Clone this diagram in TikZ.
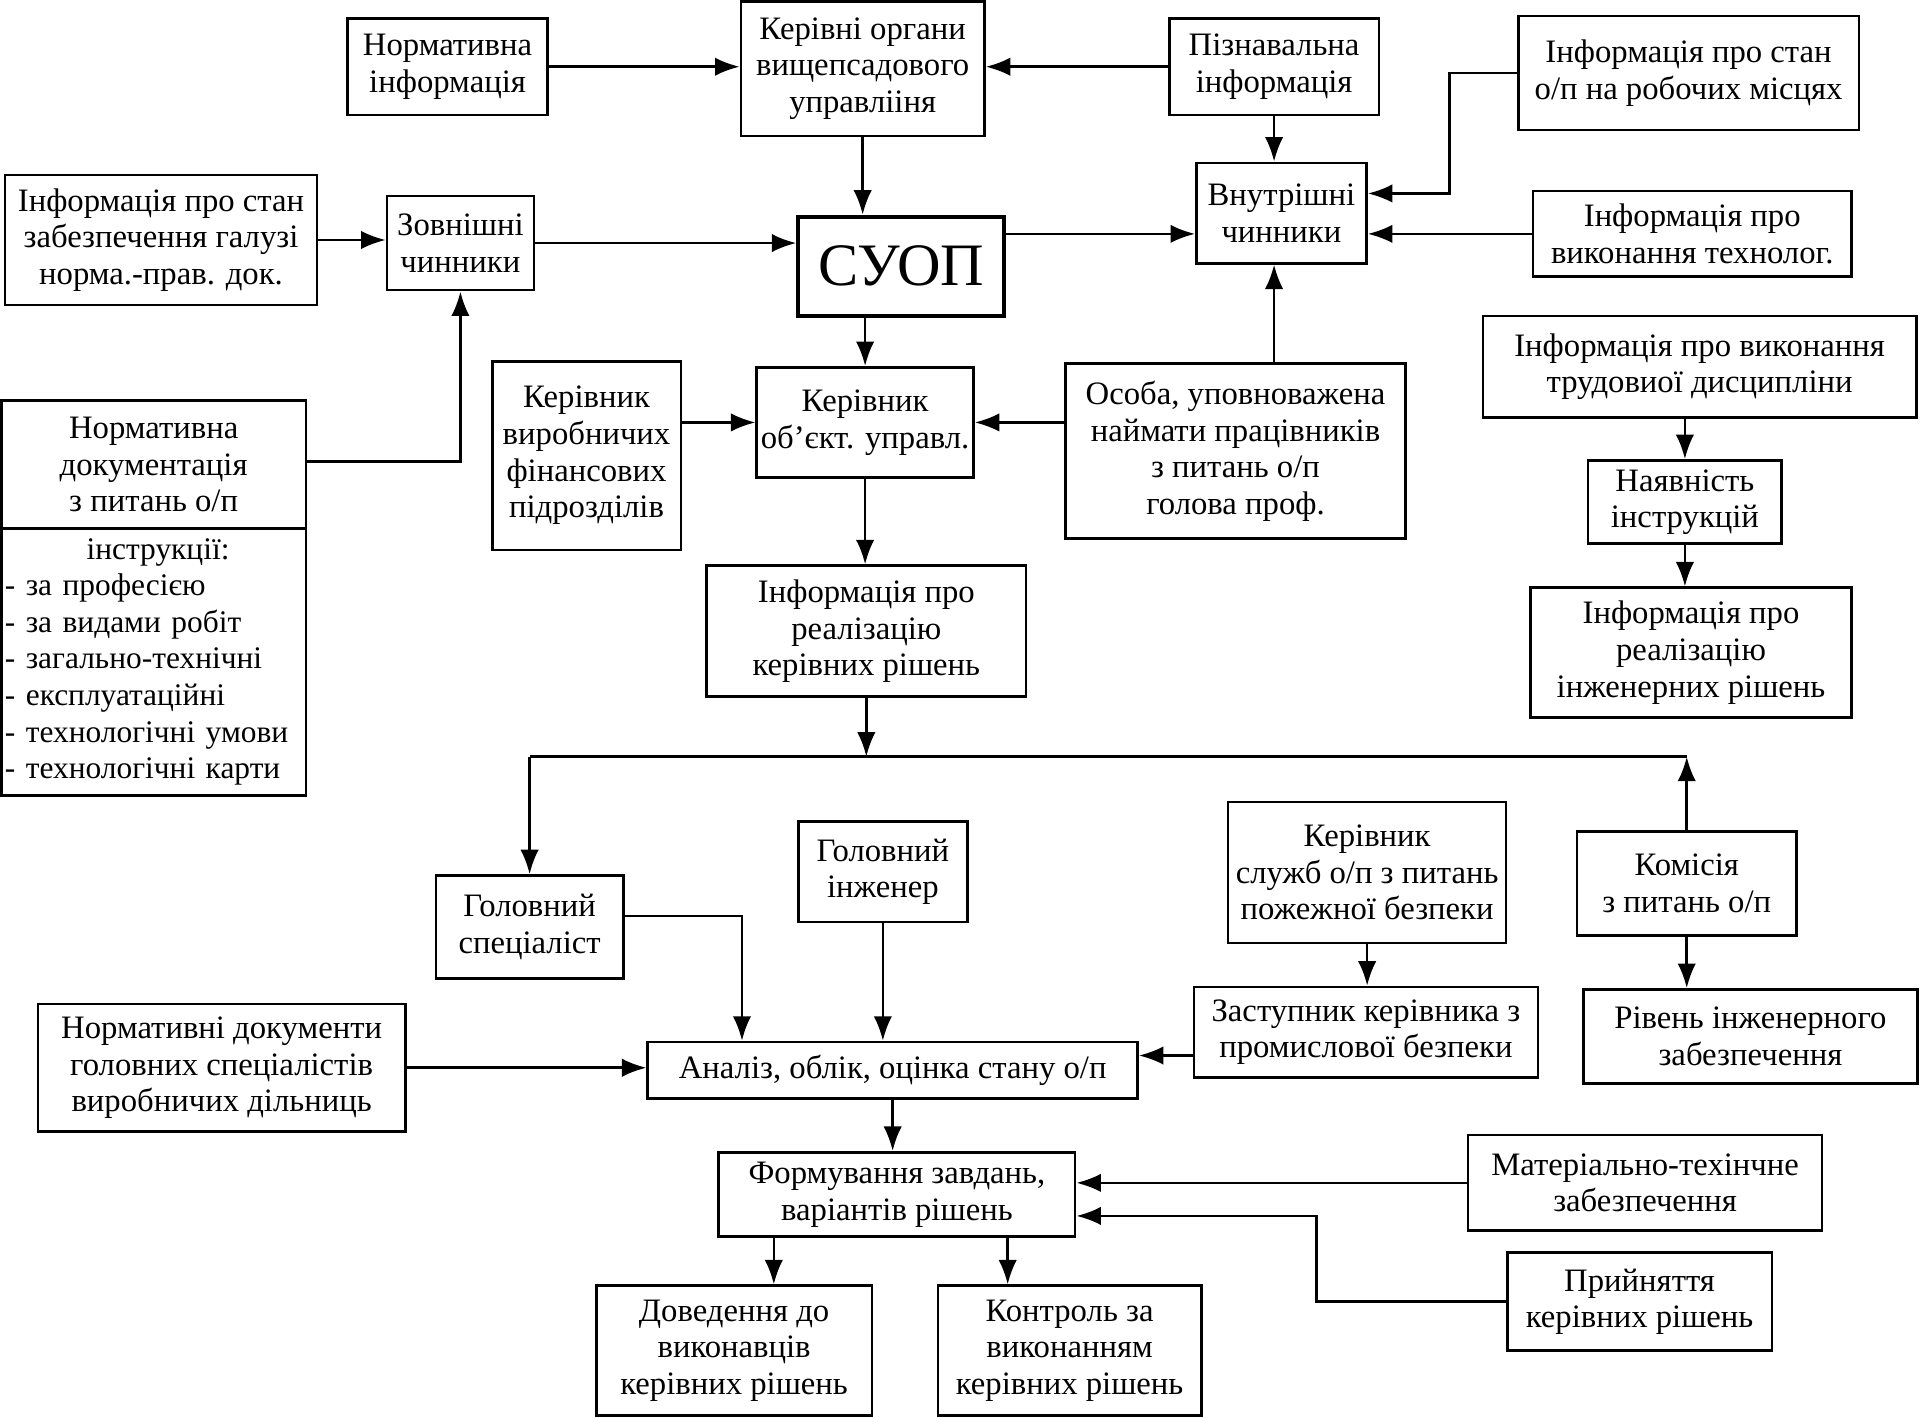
\documentclass[tikz,border=0pt]{standalone}
\usepackage{fontspec}
\setmainfont{Liberation Serif}
\usepackage{tikz}
\usetikzlibrary{arrows.meta,calc}

\begin{document}
\begin{tikzpicture}[x=0.2mm,y=-0.2mm,
  blk/.style={draw,line width=1.2pt,align=center,inner sep=1pt,font=\fontsize{15.2}{17}\selectfont},
  sz/.style 2 args={minimum width=#1*0.2mm,minimum height=#2*0.2mm},
  arr/.style={line width=1.2pt,-{Latex[length=4mm,width=3mm]}}]
\useasboundingbox (0,0) rectangle (1568,1158);

\node[blk,sz={163}{79}] (NormInfo) at (365.5,54.5) {Нормативна\\інформація};
\node[blk,sz={199}{110}] (KerOrg) at (704.5,56) {Керівні органи\\вищепсадового\\управлііня};
\node[blk,sz={171}{79}] (PiznInfo) at (1040.5,54.5) {Пізнавальна\\інформація};
\node[blk,sz={278}{93}] (InfoRobMisc) at (1379,59.5) {Інформація про стан\\о/п на робочих місцях};

\node[blk,sz={255}{106}] (InfoGaluz) at (131.5,196) {Інформація про стан\\забезпечення галузі\\норма.-прав. док.};
\node[blk,sz={120}{77}] (Zovn) at (376,198.5) {Зовнішні\\чинники};
\node[blk,sz={168}{81},line width=1.9pt,font=\fontsize{28}{30}\selectfont] (SUOP) at (736,217.5) {СУОП};
\node[blk,sz={139}{82}] (Vnutr) at (1046.5,174) {Внутрішні\\чинники};
\node[blk,sz={260}{70}] (InfoTechn) at (1382,191) {Інформація про\\виконання технолог.};

\node[blk,sz={249}{105}] (NormDoc) at (125.5,379.5) {Нормативна\\документація\\з питань о/п};
\node[blk,sz={249}{218},align=left,text width=243*0.2mm,font=\fontsize{14.6}{17}\selectfont] (Instr) at (125.5,540.5) {\hspace*{2.6em}інструкції:\\- за професією\\- за видами робіт\\- загально-технічні\\- експлуатаційні\\- технологічні умови\\- технологічні карти};
\node[blk,sz={154}{154}] (KerVyrob) at (479,372) {Керівник\\виробничих\\фінансових\\підрозділів};
\node[blk,sz={177}{90}] (KerObj) at (706.5,345) {Керівник\\об'єкт. управл.};
\node[blk,sz={278}{143}] (Osoba) at (1009,368.5) {Особа, уповноважена\\наймати працівників\\з питань о/п\\голова проф.};
\node[blk,sz={354}{83}] (InfoDysc) at (1388,299.5) {Інформація про виконання\\трудовиої дисципліни};
\node[blk,sz={158}{68}] (Nayavn) at (1376,410) {Наявність\\інструкцій};
\node[blk,sz={262}{106}] (InfoIng) at (1381,533) {Інформація про\\реалізацію\\інженерних рішень};
\node[blk,sz={261}{107}] (InfoKer) at (707.5,515.5) {Інформація про\\реалізацію\\керівних рішень};

\node[blk,sz={153}{84}] (GolSpec) at (432.5,757) {Головний\\спеціаліст};
\node[blk,sz={138}{82}] (GolIng) at (721,712) {Головний\\інженер};
\node[blk,sz={227}{115}] (KerSluzh) at (1116.5,712.5) {Керівник\\служб о/п з питань\\пожежної безпеки};
\node[blk,sz={179}{85}] (Komis) at (1377.5,721.5) {Комісія\\з питань о/п};
\node[blk,sz={281}{74}] (Zastup) at (1115.5,843) {Заступник керівника з\\промислової безпеки};
\node[blk,sz={273}{77}] (Riven) at (1429.5,846.5) {Рівень інженерного\\забезпечення};
\node[blk,sz={300}{104}] (NormDocGol) at (181,872) {Нормативні документи\\головних спеціалістів\\виробничих дільниць};
\node[blk,sz={400}{46}] (Analiz) at (729,874) {Аналіз, облік, оцінка стану о/п};
\node[blk,sz={291}{69}] (Form) at (732.5,975.5) {Формування завдань,\\варіантів рішень};
\node[blk,sz={289}{78}] (MatTech) at (1343.5,966) {Матеріально-техінчне\\забезпечення};
\node[blk,sz={216}{80}] (Pryin) at (1339,1063) {Прийняття\\керівних рішень};
\node[blk,sz={225}{106}] (Doved) at (599.5,1103) {Доведення до\\виконавців\\керівних рішень};
\node[blk,sz={215}{106}] (Kontr) at (873.5,1103) {Контроль за\\виконанням\\керівних рішень};

\coordinate (BusL) at (432.5,618);
\coordinate (BusR) at (1377.5,618);
\coordinate (ZastW) at ($(Zastup.west)+(0,19)$);
\coordinate (FormA) at ($(Form.south west)+(46,0)$);
\coordinate (FormB) at ($(Form.south west)+(237,0)$);

\draw[arr] (NormInfo.east) -- (NormInfo.east -| KerOrg.west);
\draw[arr] (PiznInfo.west) -- (PiznInfo.west -| KerOrg.east);
\draw[arr] (PiznInfo.south) -- (PiznInfo.south |- Vnutr.north);
\draw[arr] (KerOrg.south) -- (KerOrg.south |- SUOP.north);
\draw[arr] (InfoRobMisc.west) -- ++(-55,0) |- ($(Vnutr.east)+(0,-16)$);
\draw[arr] (InfoTechn.west) -- (InfoTechn.west -| Vnutr.east);
\draw[arr] (SUOP.east |- InfoTechn.west) -- (Vnutr.west |- InfoTechn.west);
\draw[arr] (InfoGaluz.east) -- (InfoGaluz.east -| Zovn.west);
\draw[arr] (Zovn.east) -- (Zovn.east -| SUOP.west);
\draw[arr] ($(NormDoc.north east)+(0,51)$) -| (Zovn.south);
\draw[arr] (SUOP.south -| KerObj.north) -- (KerObj.north);
\draw[arr] (KerVyrob.east |- KerObj.west) -- (KerObj.west);
\draw[arr] (Osoba.west |- KerObj.east) -- (KerObj.east);
\draw[arr] (Osoba.north -| PiznInfo.south) -- (PiznInfo.south |- Vnutr.south);
\draw[arr] (KerObj.south) -- (KerObj.south |- InfoKer.north);
\draw[arr] (Nayavn.north |- InfoDysc.south) -- (Nayavn.north);
\draw[arr] (Nayavn.south) -- (Nayavn.south |- InfoIng.north);
\draw[line width=1.2pt] (BusL) -- (BusR);
\draw[arr] (InfoKer.south) -- (InfoKer.south |- BusL);
\draw[arr] (BusL) -- (GolSpec.north);
\draw[arr] (Komis.north) -- (BusR);
\draw[arr] ($(GolSpec.east)+(0,-9)$) -| ($(Analiz.north west)+(78,0)$);
\draw[arr] (GolIng.south) -- (GolIng.south |- Analiz.north);
\draw[arr] (KerSluzh.south) -- (KerSluzh.south |- Zastup.north);
\draw[arr] (ZastW) -- (ZastW -| Analiz.east);
\draw[arr] (Komis.south) -- (Komis.south |- Riven.north);
\draw[arr] (NormDocGol.east) -- (NormDocGol.east -| Analiz.west);
\draw[arr] (Analiz.south) -- (Analiz.south |- Form.north);
\draw[arr] (MatTech.west) -- (MatTech.west -| Form.east);
\draw[arr] (Pryin.west) -- ++(-155,0) |- ($(Form.east)+(0,17.5)$);
\draw[arr] (FormA) -- (FormA |- Doved.north);
\draw[arr] (FormB) -- (FormB |- Kontr.north);
\end{tikzpicture}
\end{document}
